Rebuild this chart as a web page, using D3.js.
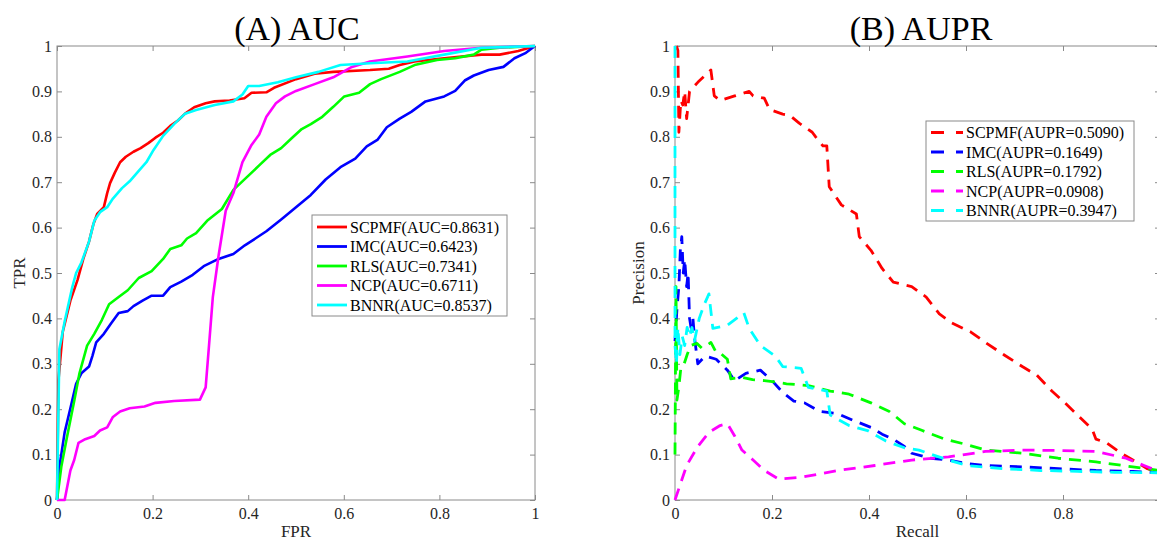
<!DOCTYPE html>
<html>
<head>
<meta charset="utf-8">
<script src="https://cdn.jsdelivr.net/npm/d3@7"></script>
<style>
    body { margin: 0; background: #fff; }
    text { font-family: "Liberation Serif", "Times New Roman", serif; }
</style>
</head>
<body>
<script>
// ---- data ----
const methods = ['SCPMF', 'IMC', 'RLS', 'NCP', 'BNNR'];
const colors = ['#ff0000', '#0000ff', '#00ff00', '#ff00ff', '#00ffff'];
const aucValues = ['0.8631', '0.6423', '0.7341', '0.6711', '0.8537'];
const auprValues = ['0.5090', '0.1649', '0.1792', '0.0908', '0.3947'];

const xTicks = [0, 0.2, 0.4, 0.6, 0.8, 1];
const yTicks = [0, 0.1, 0.2, 0.3, 0.4, 0.5, 0.6, 0.7, 0.8, 0.9, 1];

// ROC curves: [FPR, TPR]
const rocSCPMF = [[0,0],[0.003,0.263],[0.012,0.37],[0.028,0.439],[0.043,0.485],[0.055,0.531],[0.067,0.569],[0.076,0.607],[0.084,0.63],[0.098,0.645],[0.105,0.676],[0.111,0.698],[0.121,0.721],[0.132,0.744],[0.144,0.756],[0.16,0.767],[0.175,0.775],[0.191,0.786],[0.206,0.798],[0.222,0.809],[0.237,0.824],[0.253,0.836],[0.268,0.851],[0.287,0.865],[0.311,0.874],[0.33,0.878],[0.361,0.88],[0.392,0.885],[0.407,0.897],[0.438,0.898],[0.454,0.908],[0.5,0.927],[0.539,0.939],[0.578,0.943],[0.655,0.947],[0.694,0.95],[0.717,0.958],[0.748,0.966],[0.81,0.973],[0.888,0.981],[0.926,0.981],[0.965,0.989],[1,1]];
const rocIMC = [[0,0],[0.005,0.073],[0.016,0.149],[0.028,0.202],[0.04,0.256],[0.051,0.279],[0.067,0.294],[0.074,0.317],[0.082,0.347],[0.098,0.366],[0.113,0.389],[0.129,0.412],[0.148,0.416],[0.16,0.427],[0.179,0.439],[0.198,0.45],[0.222,0.45],[0.237,0.469],[0.26,0.481],[0.284,0.496],[0.307,0.515],[0.338,0.531],[0.369,0.542],[0.393,0.561],[0.415,0.576],[0.438,0.592],[0.469,0.618],[0.5,0.645],[0.531,0.672],[0.562,0.706],[0.593,0.733],[0.624,0.752],[0.648,0.779],[0.671,0.794],[0.69,0.821],[0.717,0.84],[0.741,0.855],[0.771,0.878],[0.81,0.889],[0.833,0.901],[0.853,0.924],[0.872,0.935],[0.903,0.947],[0.934,0.954],[0.957,0.973],[0.981,0.985],[1,1]];
const rocRLS = [[0,0],[0.009,0.073],[0.02,0.134],[0.036,0.218],[0.047,0.279],[0.063,0.34],[0.078,0.366],[0.094,0.397],[0.109,0.431],[0.129,0.447],[0.148,0.462],[0.171,0.489],[0.198,0.504],[0.222,0.531],[0.237,0.553],[0.26,0.561],[0.272,0.576],[0.291,0.588],[0.314,0.615],[0.345,0.641],[0.369,0.683],[0.4,0.714],[0.423,0.737],[0.446,0.76],[0.469,0.775],[0.492,0.798],[0.512,0.817],[0.531,0.828],[0.555,0.844],[0.578,0.866],[0.601,0.889],[0.632,0.897],[0.655,0.916],[0.678,0.927],[0.717,0.943],[0.748,0.958],[0.795,0.969],[0.833,0.973],[0.872,0.981],[0.888,0.992],[0.926,0.996],[1,1]];
const rocNCP = [[0,0],[0.016,0],[0.028,0.065],[0.036,0.088],[0.045,0.126],[0.059,0.134],[0.078,0.141],[0.09,0.153],[0.105,0.16],[0.117,0.183],[0.132,0.195],[0.152,0.202],[0.183,0.206],[0.206,0.214],[0.245,0.218],[0.299,0.221],[0.311,0.248],[0.318,0.34],[0.326,0.447],[0.338,0.538],[0.353,0.637],[0.369,0.676],[0.388,0.744],[0.407,0.782],[0.423,0.805],[0.438,0.844],[0.458,0.874],[0.477,0.889],[0.5,0.901],[0.539,0.916],[0.578,0.931],[0.617,0.954],[0.655,0.966],[0.733,0.977],[0.81,0.989],[0.888,0.996],[1,1]];
const rocBNNR = [[0,0],[0.005,0.332],[0.016,0.393],[0.032,0.469],[0.04,0.5],[0.051,0.523],[0.067,0.569],[0.078,0.615],[0.09,0.634],[0.105,0.645],[0.117,0.664],[0.136,0.687],[0.152,0.702],[0.171,0.725],[0.187,0.744],[0.202,0.771],[0.222,0.802],[0.245,0.828],[0.268,0.851],[0.291,0.859],[0.33,0.87],[0.369,0.878],[0.388,0.893],[0.4,0.912],[0.423,0.912],[0.462,0.92],[0.5,0.931],[0.547,0.943],[0.593,0.958],[0.655,0.962],[0.733,0.966],[0.81,0.981],[0.888,0.996],[1,1]];

// PR curves: [Recall, Precision]
const prSCPMF = [[0.003,1],[0.006,0.99],[0.008,0.81],[0.012,0.88],[0.016,0.87],[0.02,0.9],[0.024,0.84],[0.03,0.9],[0.047,0.92],[0.074,0.947],[0.081,0.89],[0.093,0.88],[0.123,0.89],[0.153,0.9],[0.161,0.89],[0.184,0.885],[0.195,0.86],[0.222,0.85],[0.237,0.847],[0.256,0.83],[0.283,0.81],[0.29,0.8],[0.305,0.78],[0.313,0.78],[0.318,0.69],[0.343,0.65],[0.374,0.63],[0.38,0.58],[0.404,0.55],[0.427,0.51],[0.45,0.48],[0.488,0.47],[0.518,0.447],[0.545,0.41],[0.571,0.39],[0.61,0.37],[0.64,0.347],[0.678,0.32],[0.716,0.294],[0.746,0.275],[0.777,0.24],[0.8,0.218],[0.83,0.187],[0.86,0.156],[0.868,0.134],[0.89,0.126],[0.92,0.103],[0.944,0.088],[0.974,0.069],[1,0.06]];
const prIMC = [[0,0.35],[0.004,0.42],[0.008,0.47],[0.011,0.55],[0.014,0.58],[0.017,0.5],[0.02,0.53],[0.024,0.47],[0.027,0.5],[0.03,0.4],[0.033,0.38],[0.037,0.4],[0.04,0.36],[0.047,0.3],[0.062,0.317],[0.085,0.31],[0.108,0.286],[0.123,0.263],[0.146,0.279],[0.176,0.286],[0.2,0.263],[0.222,0.237],[0.245,0.218],[0.267,0.214],[0.298,0.195],[0.336,0.19],[0.366,0.176],[0.404,0.16],[0.427,0.145],[0.45,0.134],[0.473,0.118],[0.488,0.103],[0.526,0.092],[0.564,0.088],[0.602,0.08],[0.64,0.076],[0.716,0.073],[0.79,0.069],[0.868,0.065],[0.944,0.063],[1,0.06]];
const prRLS = [[0,0.1],[0.002,0.47],[0.004,0.22],[0.008,0.25],[0.012,0.29],[0.017,0.294],[0.025,0.32],[0.032,0.34],[0.045,0.345],[0.055,0.335],[0.065,0.34],[0.074,0.347],[0.085,0.325],[0.093,0.324],[0.108,0.31],[0.115,0.267],[0.138,0.27],[0.16,0.265],[0.184,0.263],[0.205,0.26],[0.23,0.256],[0.275,0.252],[0.32,0.24],[0.359,0.233],[0.404,0.214],[0.442,0.195],[0.473,0.168],[0.51,0.153],[0.556,0.134],[0.602,0.122],[0.64,0.11],[0.716,0.103],[0.79,0.092],[0.868,0.084],[0.944,0.073],[1,0.065]];
const prNCP = [[0,0],[0.024,0.076],[0.047,0.118],[0.07,0.149],[0.093,0.164],[0.108,0.168],[0.123,0.141],[0.138,0.11],[0.161,0.088],[0.184,0.065],[0.214,0.046],[0.26,0.05],[0.336,0.065],[0.412,0.076],[0.488,0.088],[0.564,0.095],[0.64,0.107],[0.716,0.11],[0.79,0.109],[0.868,0.107],[0.93,0.092],[0.967,0.076],[1,0.062]];
const prBNNR = [[0,1],[0,0.34],[0.003,0.3],[0.006,0.38],[0.01,0.32],[0.015,0.36],[0.02,0.34],[0.025,0.38],[0.03,0.36],[0.035,0.38],[0.04,0.35],[0.05,0.4],[0.06,0.43],[0.07,0.454],[0.074,0.416],[0.078,0.378],[0.108,0.385],[0.142,0.412],[0.153,0.378],[0.176,0.34],[0.207,0.317],[0.222,0.294],[0.26,0.29],[0.275,0.248],[0.313,0.24],[0.32,0.187],[0.359,0.164],[0.397,0.153],[0.435,0.13],[0.473,0.115],[0.503,0.11],[0.533,0.099],[0.564,0.088],[0.602,0.076],[0.678,0.069],[0.754,0.065],[0.83,0.063],[0.906,0.061],[1,0.06]];

const rocCurves = [rocSCPMF, rocIMC, rocRLS, rocNCP, rocBNNR];
const prCurves = [prSCPMF, prIMC, prRLS, prNCP, prBNNR];

// ---- layout ----
const width = 1157;
const height = 542;
const axisColor = '#8a8a8a';
const labelColor = '#262626';

const svg = d3.select('body').append('svg')
    .attr('width', width)
    .attr('height', height);

const fmt = d => (d === 0 || d === 1) ? String(d) : d.toFixed(1);

function drawPanel(p) {
    const x = d3.scaleLinear().domain([0, 1]).range([p.left, p.right]);
    const y = d3.scaleLinear().domain([0, 1]).range([p.bottom, p.top]);

    const g = svg.append('g');

    g.append('rect')
        .attr('x', p.left)
        .attr('y', p.top)
        .attr('width', p.right - p.left)
        .attr('height', p.bottom - p.top)
        .attr('fill', '#fff');

    const axes = [
        [d3.axisBottom(x), `translate(0,${p.bottom})`, true],
        [d3.axisLeft(y), `translate(${p.left},0)`, true],
        [d3.axisTop(x), `translate(0,${p.top})`, false],
        [d3.axisRight(y), `translate(${p.right},0)`, false]
    ];
    axes.forEach(([ax, tr, labels], i) => {
        ax.tickValues(i % 2 === 0 ? xTicks : yTicks)
            .tickSize(-5)
            .tickPadding(i === 0 ? 8 : 5)
            .tickFormat(labels ? fmt : '');
        const a = g.append('g').attr('transform', tr).call(ax);
        a.select('.domain').remove();
        a.selectAll('line').attr('stroke', axisColor);
        a.selectAll('text')
            .attr('fill', labelColor)
            .style('font-size', '16px')
            .style('font-family', '"Liberation Serif", "Times New Roman", serif');
    });

    g.append('rect')
        .attr('x', p.left)
        .attr('y', p.top)
        .attr('width', p.right - p.left)
        .attr('height', p.bottom - p.top)
        .attr('fill', 'none')
        .attr('stroke', axisColor);

    const line = d3.line().x(d => x(d[0])).y(d => y(d[1]));

    g.selectAll('path.curve')
        .data(p.curves)
        .join('path')
        .attr('class', 'curve')
        .attr('d', line)
        .attr('fill', 'none')
        .attr('stroke', (d, i) => colors[i])
        .attr('stroke-width', p.dash ? 2.8 : 2.6)
        .attr('stroke-linejoin', 'round')
        .attr('stroke-dasharray', p.dash ? '12,8' : null);

    // title + axis labels
    g.append('text')
        .attr('x', p.titleX)
        .attr('y', 40)
        .attr('text-anchor', 'middle')
        .attr('fill', '#000')
        .style('font-size', '34px')
        .text(p.title);

    g.append('text')
        .attr('x', (p.left + p.right) / 2)
        .attr('y', 537)
        .attr('text-anchor', 'middle')
        .attr('fill', labelColor)
        .style('font-size', '17px')
        .text(p.xLabel);

    g.append('text')
        .attr('transform', `translate(${p.yLabelX},273) rotate(-90)`)
        .attr('text-anchor', 'middle')
        .attr('dy', '0.35em')
        .attr('fill', labelColor)
        .style('font-size', '17px')
        .text(p.yLabel);

    // legend
    const lg = p.legend;
    g.append('rect')
        .attr('x', lg.x)
        .attr('y', lg.y)
        .attr('width', lg.w)
        .attr('height', lg.h)
        .attr('fill', '#fff')
        .attr('stroke', axisColor);

    const item = g.selectAll('g.item')
        .data(methods)
        .join('g')
        .attr('class', 'item')
        .attr('transform', (d, i) => `translate(0,${lg.firstRow + i * 19.5})`);

    item.append('line')
        .attr('x1', lg.lineX1)
        .attr('x2', lg.lineX2)
        .attr('stroke', (d, i) => colors[i])
        .attr('stroke-width', 2.8)
        .attr('stroke-dasharray', p.dash ? '13,12' : null);

    item.append('text')
        .attr('x', lg.textX)
        .attr('dy', '0.35em')
        .attr('fill', '#000')
        .style('font-size', '16px')
        .text((d, i) => `${d}(${p.metric}=${p.values[i]})`);
}

drawPanel({
    left: 57, right: 535, top: 46, bottom: 500,
    curves: rocCurves, dash: false,
    title: '(A) AUC', titleX: 297,
    xLabel: 'FPR', yLabel: 'TPR', yLabelX: 19,
    metric: 'AUC', values: aucValues,
    legend: { x: 312, y: 215, w: 195, h: 101, firstRow: 227, lineX1: 317, lineX2: 347, textX: 350 }
});

drawPanel({
    left: 675, right: 1160, top: 46, bottom: 500,
    curves: prCurves, dash: true,
    title: '(B) AUPR', titleX: 921,
    xLabel: 'Recall', yLabel: 'Precision', yLabelX: 638,
    metric: 'AUPR', values: auprValues,
    legend: { x: 926, y: 121, w: 208, h: 100, firstRow: 132.5, lineX1: 931, lineX2: 963, textX: 966 }
});
</script>
</body>
</html>
